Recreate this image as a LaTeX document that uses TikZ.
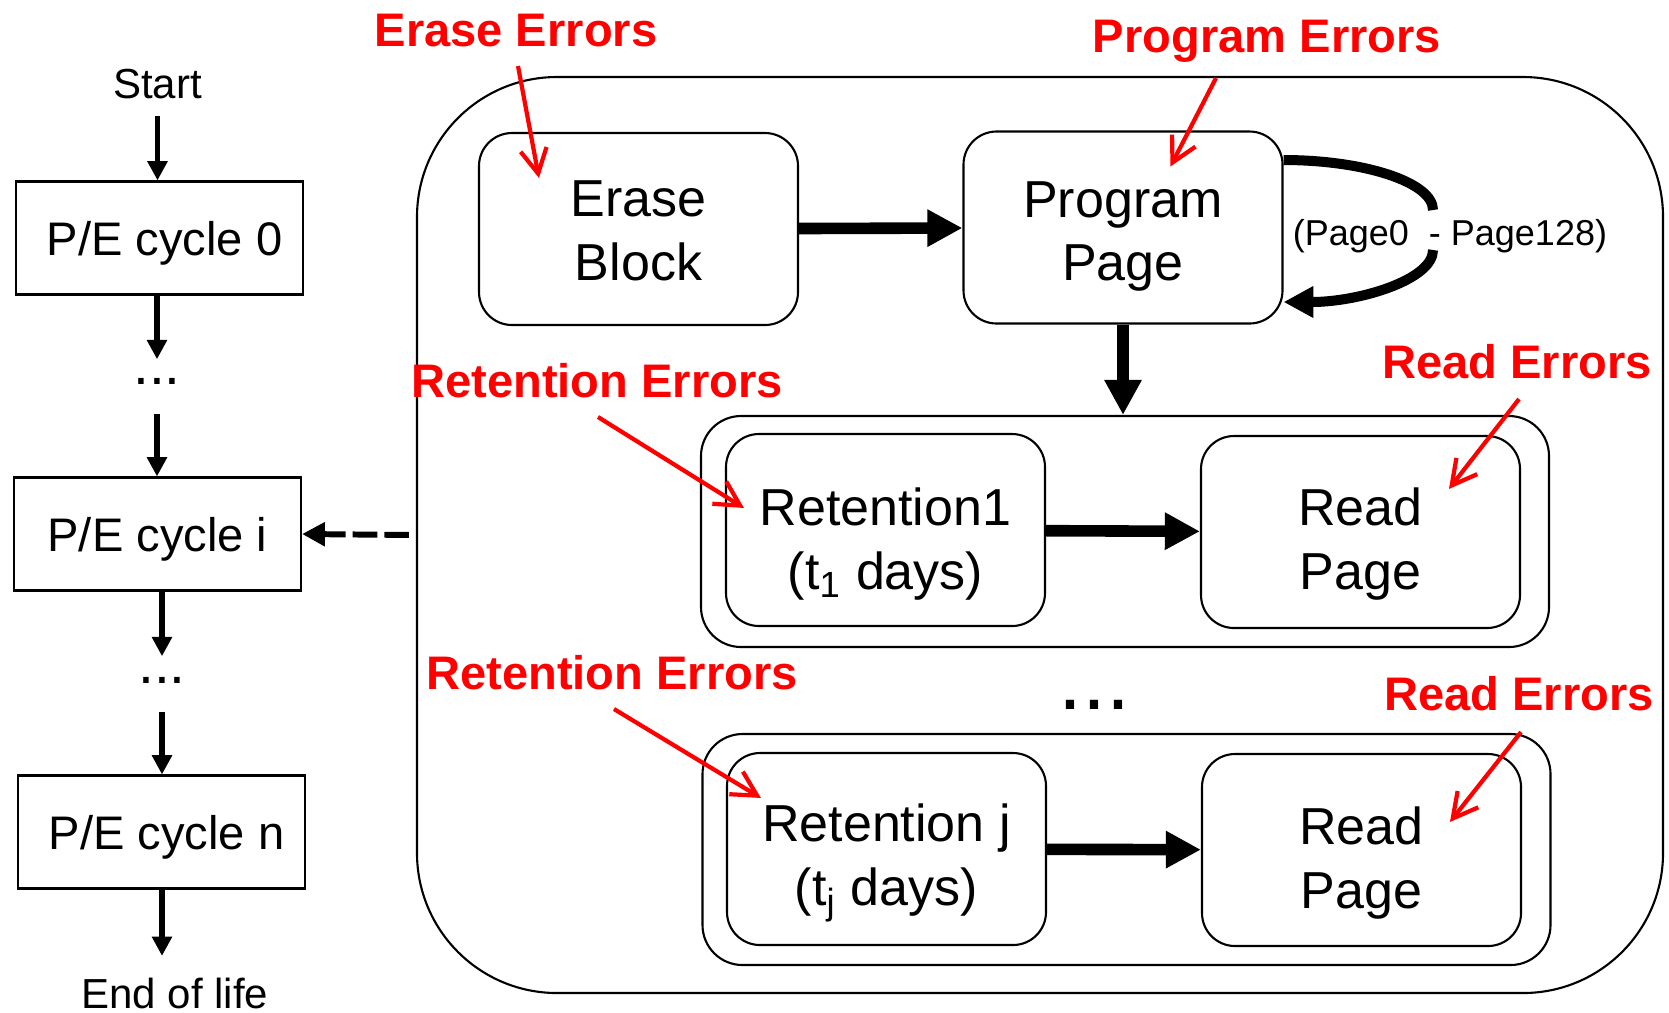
\documentclass[tikz,border=0pt]{standalone}
\usepackage{fontspec}
\setmainfont{Liberation Sans}
\usetikzlibrary{arrows.meta}

\begin{document}
\begin{tikzpicture}[
    box/.style={draw, line width=0.6pt, rounded corners=0.33cm, minimum width=3.19cm, minimum height=1.92cm},
    boxtxt/.style={align=center, inner sep=0pt, font=\fontsize{14.8pt}{18.2pt}\selectfont},
    pebox/.style={draw, line width=0.6pt, minimum width=2.87cm, minimum height=1.13cm, text depth=0pt, font=\fontsize{13.4pt}{16pt}\selectfont},
    grpbox/.style={draw, line width=0.6pt, rounded corners=0.4cm, minimum width=8.48cm, minimum height=2.31cm},
    txt/.style={inner sep=0pt, anchor=base, font=\fontsize{11.95pt}{14pt}\selectfont},
    dots/.style={inner sep=0pt, anchor=base, font=\fontsize{16.2pt}{18pt}\selectfont},
    err/.style={inner sep=0pt, anchor=base, text=red, font=\bfseries\fontsize{13.4pt}{16pt}\selectfont},
    errarrow/.style={red, line width=1.2pt, -{Straight Barb[length=7pt,width=7.5pt]}},
    bigarrow/.style={line width=3.3pt, -{Triangle[length=10pt,width=10pt]}},
    looparrow/.style={line width=2.85pt},
    flow/.style={line width=1.7pt, -{Triangle[length=5.5pt,width=5.5pt]}},
    dasharrow/.style={line width=1.7pt, dash pattern=on 7pt off 2pt, -{Triangle[length=6.5pt,width=6.5pt]}}
]
\useasboundingbox (0,0) rectangle (16.69,-10.12);

% P/E cycles
\node[txt] (start) at (1.575,-0.98) {Start};
\node[pebox] (pe0) at (1.595,-2.38) {\hspace{0.1cm}P/E cycle 0};
\node[dots] (dots1) at (1.57,-3.84) {...};
\node[pebox] (pei) at (1.575,-5.34) {P/E cycle i};
\node[dots] (dots2) at (1.62,-6.83) {...};
\node[pebox] (pen) at (1.615,-8.32) {\hspace{0.1cm}P/E cycle n};
\node[txt] (eol) at (1.75,-10.08) {End of life};

\draw[flow, shorten <=0.17cm] (start.south) -- (start.south |- pe0.north);
\draw[flow, shorten >=0.18cm] (pe0.south -| dots1) -- (dots1.north);
\draw[flow, shorten <=0.29cm] (dots1.south) -- (dots1.south |- pei.north);
\draw[flow, shorten >=0.20cm] (pei.south -| dots2) -- (dots2.north);
\draw[flow, shorten <=0.28cm] (dots2.south) -- (dots2.south |- pen.north);
\draw[flow, shorten >=0.21cm] (pen.south -| dots2) -- (dots2 |- eol.north);

% Test flow
\node[draw, line width=0.6pt, rounded corners=1.4cm, minimum width=12.46cm, minimum height=9.16cm] (outer) at (10.40,-5.35) {};
\draw[dasharrow, shorten <=0.07cm] (outer.west) -- (pei.east);

\node[box] (erase) at (6.385,-2.29) {};
\node[boxtxt] (erasetxt) at ([yshift=-0.02cm]erase) {Erase\\Block};
\node[box] (prog) at (11.23,-2.275) {};
\node[boxtxt] (progtxt) at ([yshift=-0.09cm]prog) {Program\\Page};
\draw[bigarrow] (erase) -- (prog);

% Page0 - Page128 loop
\node[txt, font=\fontsize{10.24pt}{12pt}\selectfont] (pagerng) at (14.50,-2.45) {(Page0\ \ - Page128)};
\coordinate (gaptop) at (14.33,-2.10);
\coordinate (gapbot) at (14.33,-2.50);
\draw[looparrow] ([yshift=0.675cm]prog.east) .. controls +(0.8,0) and +(0,0.28) .. (gaptop);
\draw[looparrow, -{Triangle[length=8.5pt,width=8.5pt]}] (gapbot) .. controls +(0,-0.3) and +(0.75,0) .. ([yshift=-0.745cm]prog.east);

% Retention 1
\node[grpbox] (grp1) at (11.25,-5.315) {};
\node[box] (ret1) at (8.855,-5.30) {};
\node[boxtxt] (ret1txt) at ([yshift=-0.14cm]ret1) {Retention1\\(t\textsubscript{1} days)};
\node[box] (read1) at (13.605,-5.32) {};
\node[boxtxt] (read1txt) at ([yshift=-0.12cm]read1) {Read\\Page};
\draw[bigarrow] (prog.south) -- (prog.south |- grp1.north);
\draw[bigarrow] (ret1) -- (read1);

\node[dots, font=\fontsize{24.5pt}{26pt}\selectfont] (dots3) at (10.94,-7.09) {...};

% Retention j
\node[grpbox] (grp2) at (11.265,-8.495) {};
\node[box] (ret2) at (8.865,-8.49) {};
\node[boxtxt] (ret2txt) at ([yshift=-0.14cm]ret2) {Retention j\\(t\textsubscript{j} days)};
\node[box] (read2) at (13.615,-8.50) {};
\node[boxtxt] (read2txt) at ([yshift=-0.13cm]read2) {Read\\Page};
\draw[bigarrow] (ret2) -- (read2);

% Errors
\node[err] (eraseerr) at (5.16,-0.46) {Erase Errors};
\node[err] (progerr) at (12.67,-0.52) {Program Errors};
\node[err] (reterr1) at (5.97,-3.97) {Retention Errors};
\node[err] (readerr1) at (15.17,-3.78) {Read Errors};
\node[err] (reterr2) at (6.12,-6.89) {Retention Errors};
\node[err] (readerr2) at (15.19,-7.10) {Read Errors};

\draw[errarrow] ([xshift=0.02cm,yshift=-0.20cm]eraseerr.base) -- ([xshift=0.61cm,yshift=-0.46cm]erase.north west);
\draw[errarrow] ([xshift=-0.51cm,yshift=-0.26cm]progerr.base) -- ([xshift=2.08cm,yshift=-0.36cm]prog.north west);
\draw[errarrow] ([xshift=0.01cm,yshift=-0.20cm]reterr1.base) -- ([xshift=0.19cm,yshift=-0.75cm]ret1.north west);
\draw[errarrow] ([xshift=0.02cm,yshift=-0.21cm]readerr1.base) -- ([xshift=2.49cm,yshift=-0.54cm]read1.north west);
\draw[errarrow] ([xshift=0.02cm,yshift=-0.20cm]reterr2.base) -- ([xshift=0.35cm,yshift=-0.46cm]ret2.north west);
\draw[errarrow] ([xshift=0.02cm,yshift=-0.22cm]readerr2.base) -- ([xshift=2.49cm,yshift=-0.69cm]read2.north west);
\end{tikzpicture}
\end{document}
